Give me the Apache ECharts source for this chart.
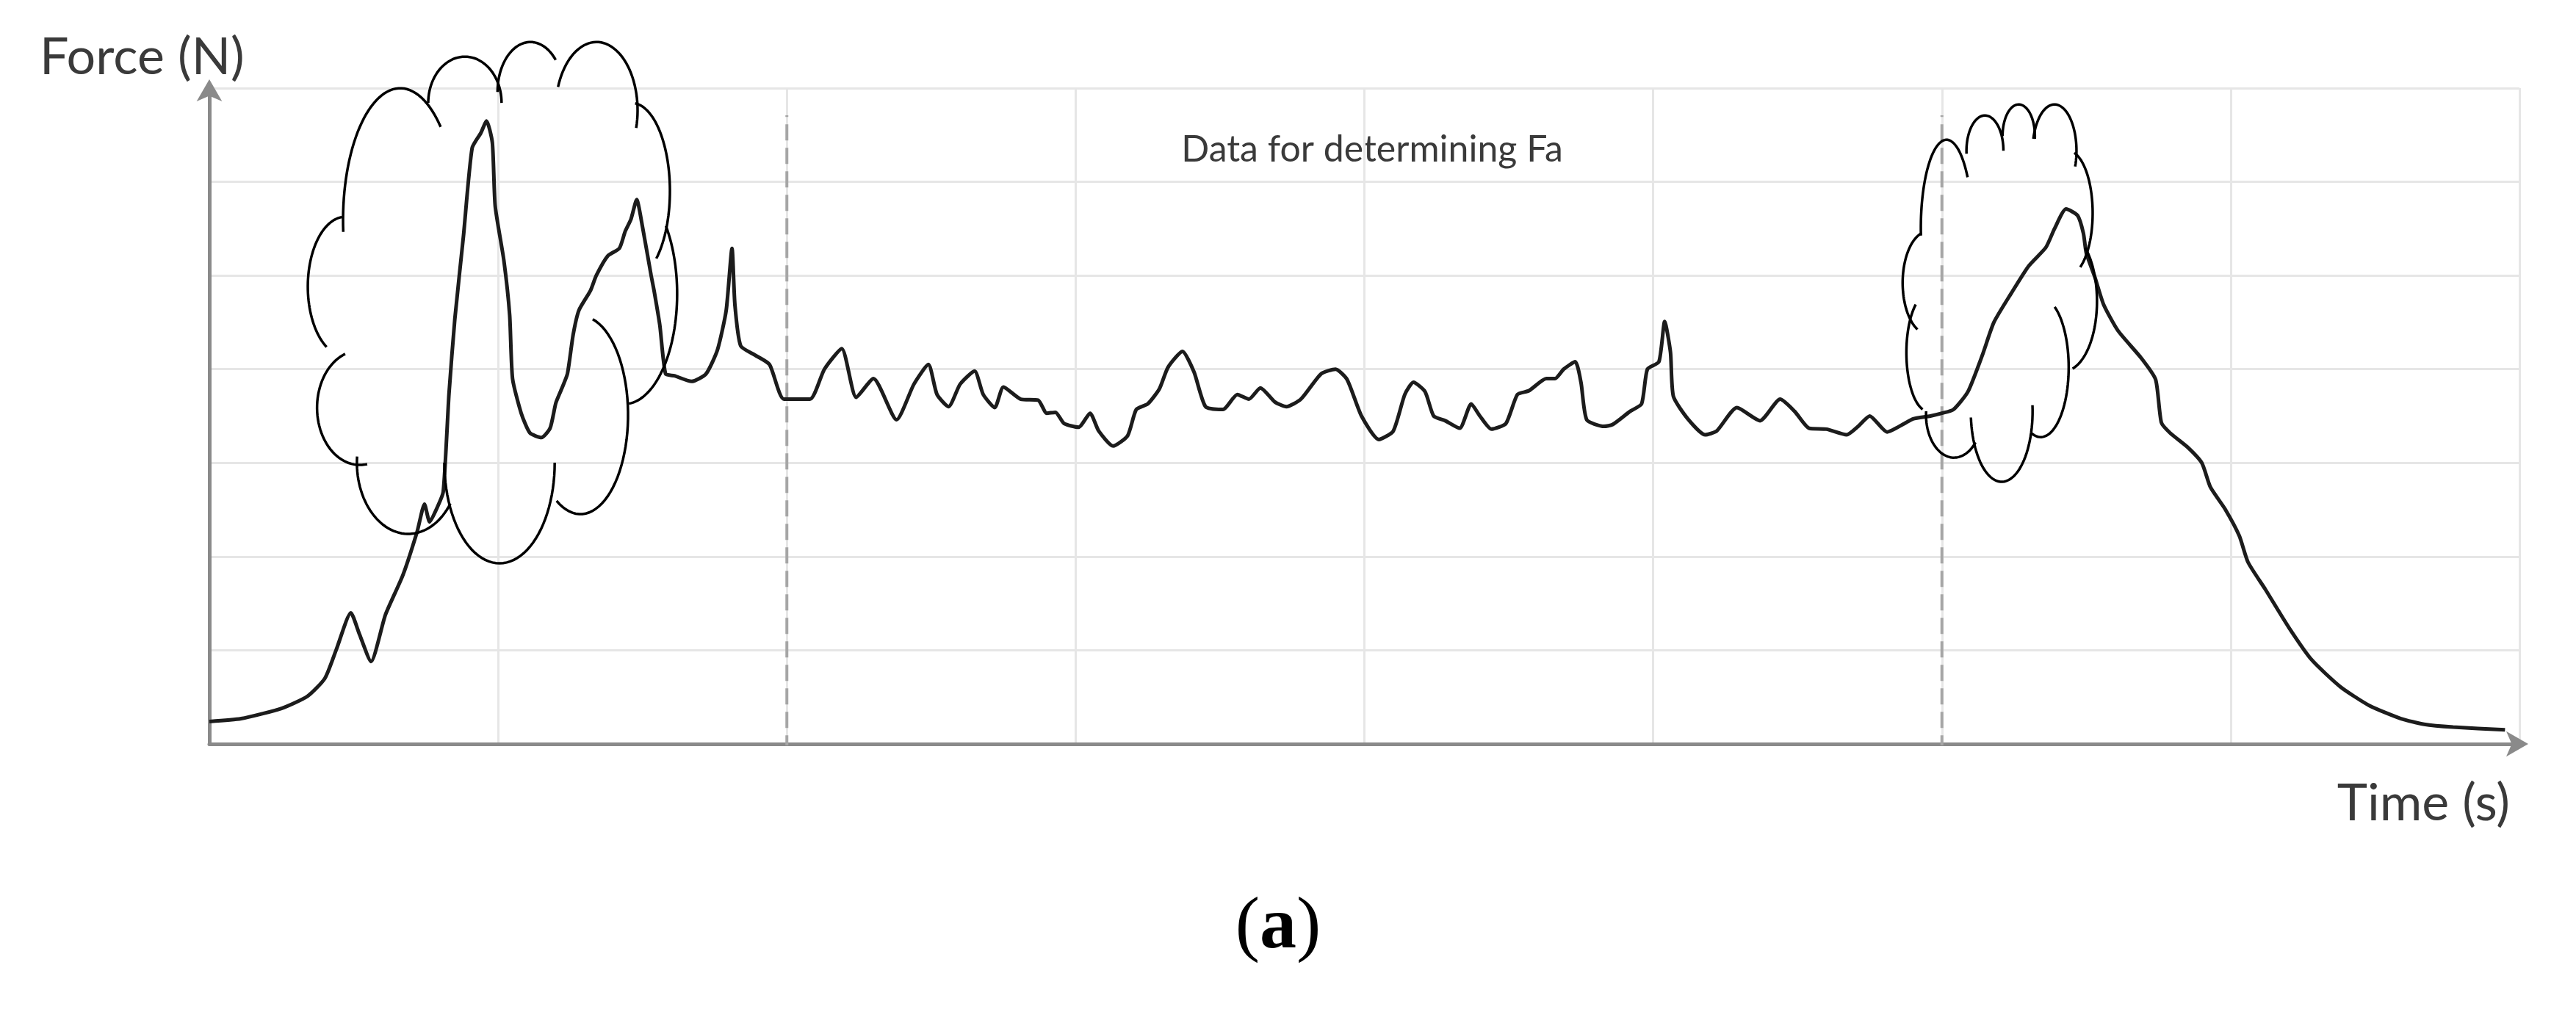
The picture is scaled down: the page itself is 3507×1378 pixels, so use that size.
<!DOCTYPE html>
<html>
<head>
<meta charset="utf-8">
<script src="https://cdn.jsdelivr.net/npm/echarts@6/dist/echarts.min.js"></script>
<style>
  html, body { margin: 0; padding: 0; background: #fff; }
  #chart { width: 3507px; height: 1378px; }
</style>
</head>
<body>
<div id="chart"></div>
<script>
// time in grid divisions, force in grid divisions (no numeric labels on the figure)
const timeValues = [
  0.00, 0.11, 0.25, 0.34, 0.40, 0.44, 0.49, 0.52, 0.56, 0.61, 0.67, 0.72, 0.745, 0.763, 0.79, 0.81,
  0.83, 0.85, 0.88, 0.91, 0.94, 0.96, 0.98, 0.99, 1.02, 1.04, 1.05, 1.08, 1.11, 1.15, 1.18, 1.20,
  1.22, 1.24, 1.26, 1.28, 1.32, 1.34, 1.38, 1.42, 1.44, 1.46, 1.48, 1.50, 1.53, 1.54, 1.56, 1.58,
  1.61, 1.67, 1.72, 1.76, 1.79, 1.81, 1.82, 1.84, 1.89, 1.94, 1.99, 2.08, 2.13, 2.19, 2.24, 2.30,
  2.38, 2.44, 2.49, 2.52, 2.56, 2.60, 2.65, 2.68, 2.72, 2.75, 2.81, 2.87, 2.90, 2.93, 2.96, 3.01,
  3.05, 3.08, 3.13, 3.18, 3.21, 3.25, 3.29, 3.32, 3.37, 3.41, 3.45, 3.51, 3.56, 3.60, 3.64, 3.69,
  3.73, 3.78, 3.85, 3.90, 3.94, 3.99, 4.05, 4.10, 4.14, 4.17, 4.21, 4.24, 4.28, 4.33, 4.37, 4.40,
  4.44, 4.49, 4.53, 4.57, 4.63, 4.66, 4.69, 4.73, 4.75, 4.77, 4.83, 4.86, 4.92, 4.96, 4.98, 5.02,
  5.04, 5.06, 5.07, 5.12, 5.18, 5.22, 5.29, 5.37, 5.44, 5.49, 5.54, 5.60, 5.67, 5.71, 5.75, 5.81,
  5.87, 5.90, 5.96, 6.00, 6.04, 6.09, 6.14, 6.18, 6.24, 6.30, 6.36, 6.39, 6.43, 6.47, 6.49, 6.50,
  6.53, 6.56, 6.61, 6.69, 6.74, 6.76, 6.79, 6.85, 6.90, 6.93, 6.98, 7.03, 7.06, 7.12, 7.20, 7.28,
  7.38, 7.48, 7.59, 7.67, 7.77, 7.95
];
const forceValues = [
  0.24, 0.27, 0.38, 0.51, 0.70, 1.01, 1.40, 1.17, 0.88, 1.38, 1.80, 2.27, 2.56, 2.37, 2.53, 2.69,
  3.74, 4.53, 5.42, 6.36, 6.52, 6.65, 6.42, 5.74, 5.16, 4.58, 3.90, 3.53, 3.32, 3.27, 3.37, 3.64,
  3.79, 3.95, 4.37, 4.63, 4.84, 5.00, 5.21, 5.29, 5.47, 5.60, 5.81, 5.52, 5.00, 4.84, 4.47, 3.95,
  3.93, 3.87, 3.95, 4.21, 4.63, 5.29, 4.69, 4.25, 4.15, 4.05, 3.68, 3.68, 4.00, 4.22, 3.70, 3.90,
  3.46, 3.84, 4.05, 3.73, 3.60, 3.84, 3.98, 3.73, 3.59, 3.81, 3.68, 3.67, 3.53, 3.54, 3.42, 3.38,
  3.53, 3.34, 3.18, 3.29, 3.57, 3.63, 3.79, 4.02, 4.19, 3.97, 3.60, 3.57, 3.73, 3.68, 3.80, 3.65,
  3.60, 3.68, 3.95, 4.00, 3.89, 3.50, 3.25, 3.34, 3.73, 3.86, 3.76, 3.50, 3.45, 3.37, 3.63, 3.50,
  3.36, 3.42, 3.73, 3.77, 3.90, 3.90, 4.00, 4.08, 3.86, 3.46, 3.39, 3.41, 3.55, 3.63, 4.00, 4.08,
  4.51, 4.18, 3.71, 3.47, 3.30, 3.34, 3.59, 3.45, 3.68, 3.55, 3.37, 3.36, 3.30, 3.39, 3.50, 3.33,
  3.42, 3.47, 3.50, 3.53, 3.57, 3.76, 4.15, 4.50, 4.81, 5.10, 5.30, 5.50, 5.71, 5.64, 5.45, 5.24,
  4.98, 4.69, 4.41, 4.12, 3.89, 3.43, 3.32, 3.17, 3.00, 2.74, 2.51, 2.22, 1.94, 1.65, 1.25, 0.90,
  0.61, 0.41, 0.27, 0.21, 0.18, 0.15
];
// dashed lines bounding the "Data for determining Fa" window
const windowEdges = [2, 6];
const windowSpan = [-0.08, 6.71];

// hand-drawn cloud annotations, one arc per lobe:
// [centre time, centre force, radius time, radius force, start angle, end angle]
const leftCloud = [
  [0.661, 5.588, 0.198, 1.411, 45, 185],
  [0.885, 6.842, 0.127, 0.494, 0, 180],
  [1.112, 6.959, 0.114, 0.533, 40, 180],
  [1.341, 6.763, 0.142, 0.729, -15, 160],
  [1.463, 5.901, 0.132, 0.940, -50, 85],
  [1.437, 4.804, 0.183, 1.176, -85, 38],
  [1.285, 3.511, 0.165, 1.058, -120, 75],
  [1.005, 3.002, 0.191, 1.074, -180, 0],
  [0.689, 3.002, 0.178, 0.760, -185, -35],
  [0.521, 3.589, 0.148, 0.611, 110, 280],
  [0.471, 4.882, 0.130, 0.745, 95, 240]
];
const rightCloud = [
  [6.016, 5.509, 0.089, 0.940, 35, 185],
  [6.149, 6.332, 0.064, 0.376, 0, 185],
  [6.266, 6.489, 0.056, 0.337, -5, 180],
  [6.390, 6.332, 0.076, 0.494, -20, 165],
  [6.436, 5.666, 0.086, 0.666, -60, 75],
  [6.423, 4.726, 0.114, 0.745, -75, 50],
  [6.342, 4.020, 0.097, 0.745, -110, 60],
  [6.207, 3.550, 0.107, 0.752, -175, 5],
  [6.042, 3.511, 0.097, 0.455, -185, -40],
  [5.953, 4.177, 0.076, 0.627, 125, 255],
  [5.953, 4.922, 0.089, 0.549, 105, 245]
];

const chart = echarts.init(document.getElementById('chart'))
const curve = timeValues.map((t, i) => [t, forceValues[i]])

// draws one cloud lobe as an elliptical arc through the axes
const renderLobe = (params, api) => {
  const cx = api.value(0), cy = api.value(1)
  const rx = api.value(2), ry = api.value(3)
  const a0 = api.value(4) * Math.PI / 180
  const a1 = api.value(5) * Math.PI / 180
  const pts = []
  for (let k = 0; k <= 48; k++) {
    const a = a0 + (a1 - a0) * k / 48
    pts.push(api.coord([cx + rx * Math.cos(a), cy + ry * Math.sin(a)]))
  }
  return {
    type: 'polyline',
    shape: { points: pts },
    style: { stroke: '#000', fill: null, lineWidth: 3.5 }
  }
}

const axisLine = {
  show: true,
  symbol: ['none', 'arrow'],
  symbolSize: [26, 30],
  symbolOffset: [0, 12],
  lineStyle: { color: '#8a8a8a', width: 5 }
}
const gridLine = { show: true, lineStyle: { color: '#e6e6e6', width: 3 } }

// the two dashed window edges, drawn as plain line series
const edgeSeries = windowEdges.map(t => ({
  type: 'line',
  data: windowSpan.map(f => [t, f]),
  showSymbol: false,
  silent: true,
  z: 2,
  lineStyle: { type: [22, 10], color: '#a6a6a6', width: 4 }
}))

const options = {
  animation: false,
  backgroundColor: '#fff',
  grid: { left: 285, right: 77, top: 120, bottom: 365 },
  xAxis: {
    type: 'value', min: 0, max: 8, interval: 1,
    axisLine: axisLine,
    axisTick: { show: false },
    axisLabel: { show: false },
    splitLine: gridLine
  },
  yAxis: {
    type: 'value', min: 0, max: 7, interval: 1,
    axisLine: axisLine,
    axisTick: { show: false },
    axisLabel: { show: false },
    splitLine: gridLine
  },
  graphic: [
    { type: 'text', x: 54, y: 78, style: { text: 'Force (N)', fontFamily: 'Lato', fontSize: 70, fill: '#3a3a3a', align: 'left', verticalAlign: 'middle' } },
    { type: 'text', x: 3417, y: 1094, style: { text: 'Time (s)', fontFamily: 'Lato', fontSize: 70, fill: '#3a3a3a', align: 'right', verticalAlign: 'middle' } },
    { type: 'text', x: 1868, y: 204, style: { text: 'Data for determining Fa', fontFamily: 'Lato', fontSize: 50, fill: '#3a3a3a', align: 'center', verticalAlign: 'middle' } },
    { type: 'text', x: 1740, y: 1264, style: {
        text: '{p|(}{b|a}{p|)}', align: 'center', verticalAlign: 'middle',
        rich: {
          p: { fontFamily: 'Liberation Serif', fontSize: 100, fill: '#000' },
          b: { fontFamily: 'Liberation Serif', fontSize: 100, fontWeight: 'bold', fill: '#000' }
        }
    } }
  ],
  series: [
    {
      type: 'line',
      data: curve,
      showSymbol: false,
      smooth: 0.2,
      z: 3,
      lineStyle: { color: '#1c1c1c', width: 5 }
    },
    ...edgeSeries,
    { type: 'custom', renderItem: renderLobe, data: leftCloud, z: 5, silent: true },
    { type: 'custom', renderItem: renderLobe, data: rightCloud, z: 5, silent: true }
  ]
}
chart.setOption(options)
</script>
</body>
</html>
